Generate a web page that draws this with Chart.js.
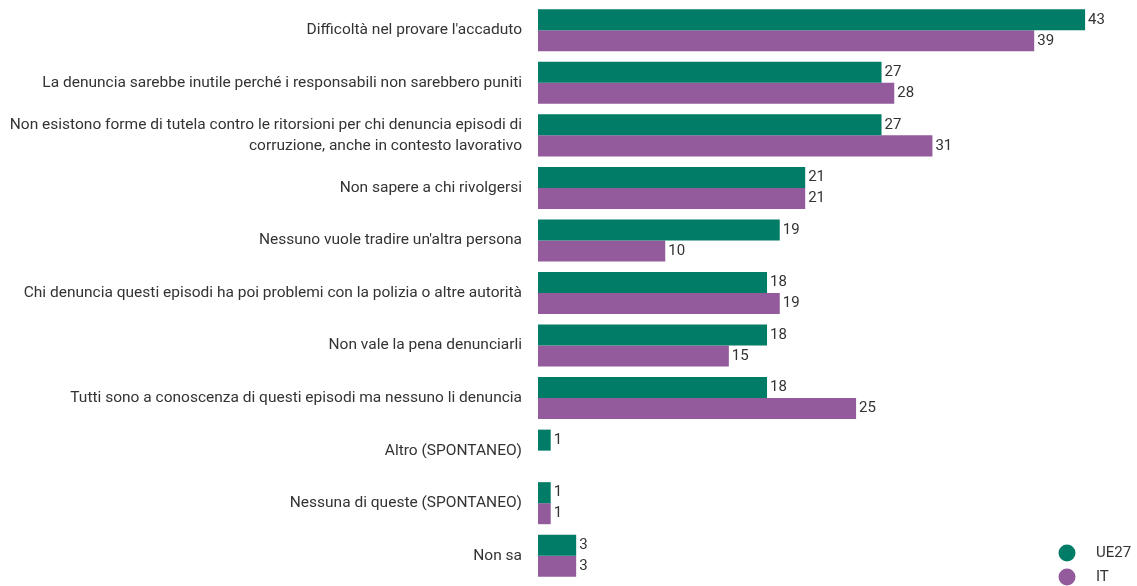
<!DOCTYPE html>
<html>
<head>
<meta charset="utf-8">
<script src="https://cdn.jsdelivr.net/npm/chart.js@4.4.1/dist/chart.umd.min.js"></script>
<style>
html,body{margin:0;padding:0;background:#fff;}
#wrap{position:relative;width:1137px;height:586px;}
</style>
</head>
<body>
<div id="wrap"><canvas id="c" width="1137" height="586"></canvas></div>
<script>
const categories = [
  "Difficoltà nel provare l'accaduto",
  "La denuncia sarebbe inutile perché i responsabili non sarebbero puniti",
  ["Non esistono forme di tutela contro le ritorsioni per chi denuncia episodi di", "corruzione, anche in contesto lavorativo"],
  "Non sapere a chi rivolgersi",
  "Nessuno vuole tradire un'altra persona",
  "Chi denuncia questi episodi ha poi problemi con la polizia o altre autorità",
  "Non vale la pena denunciarli",
  "Tutti sono a conoscenza di questi episodi ma nessuno li denuncia",
  "Altro (SPONTANEO)",
  "Nessuna di queste (SPONTANEO)",
  "Non sa"
];
const seriesNames = ["UE27", "IT"];
const ue27 = [43, 27, 27, 21, 19, 18, 18, 18, 1, 1, 3];
const it = [39, 28, 31, 21, 10, 19, 15, 25, null, 1, 3];

const GREEN = "#007c67";
const PURPLE = "#935a9c";
const FONT = "Roboto, sans-serif";

const valueLabels = {
  id: 'valueLabels',
  afterDatasetsDraw(chart) {
    const ctx = chart.ctx;
    ctx.save();
    ctx.fillStyle = '#333';
    ctx.font = "15px " + FONT;
    ctx.textAlign = 'left';
    ctx.textBaseline = 'middle';
    chart.data.datasets.forEach((ds, i) => {
      const meta = chart.getDatasetMeta(i);
      meta.data.forEach((bar, j) => {
        const v = ds.data[j];
        if (v === null || v === undefined) return;
        ctx.fillText(String(v), bar.x + 3, bar.y);
      });
    });
    ctx.restore();
  }
};

const customLegend = {
  id: 'customLegend',
  afterDraw(chart) {
    const ctx = chart.ctx;
    ctx.save();
    ctx.font = "15px " + FONT;
    ctx.textBaseline = 'middle';
    ctx.textAlign = 'left';
    const ys = [553, 577];
    chart.data.datasets.forEach((ds, i) => {
      ctx.fillStyle = ds.backgroundColor;
      ctx.beginPath();
      ctx.arc(1067, ys[i], 8.5, 0, Math.PI * 2);
      ctx.fill();
      ctx.fillStyle = '#333';
      ctx.fillText(ds.label, 1096, ys[i]);
    });
    ctx.restore();
  }
};

new Chart(document.getElementById('c'), {
  type: 'bar',
  data: {
    labels: categories,
    datasets: [
      { label: seriesNames[0], data: ue27, backgroundColor: GREEN },
      { label: seriesNames[1], data: it, backgroundColor: PURPLE }
    ]
  },
  options: {
    indexAxis: 'y',
    responsive: false,
    animation: false,
    layout: { padding: { left: 0, right: 1, top: 4, bottom: 4 } },
    datasets: { bar: { categoryPercentage: 0.8, barPercentage: 1.0 } },
    plugins: { legend: { display: false }, tooltip: { enabled: false } },
    scales: {
      x: {
        display: false,
        min: 0,
        max: 47
      },
      y: {
        grid: { display: false, drawTicks: false },
        border: { display: false },
        ticks: {
          color: '#333',
          font: { family: FONT, size: 15.5, lineHeight: 1.35 },
          padding: 16,
          autoSkip: false
        },
        afterFit(scale) {
          scale.width = 538;
          scale.paddingTop = 0;
          scale.paddingBottom = 0;
        }
      }
    }
  },
  plugins: [valueLabels, customLegend]
});
</script>
</body>
</html>
